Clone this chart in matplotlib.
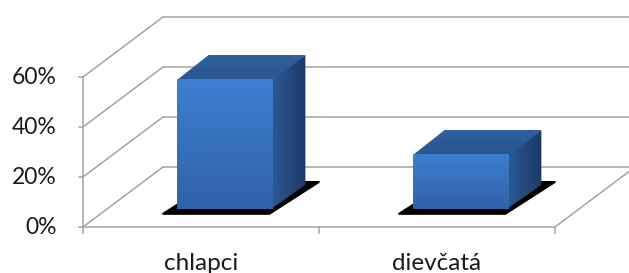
import numpy as np
import matplotlib.pyplot as plt
from matplotlib.patches import Polygon
from matplotlib.colors import LinearSegmentedColormap

categories = ["chlapci", "dievčatá"]
values = [0.52, 0.22]
y_ticks = [0.0, 0.2, 0.4, 0.6]
y_tick_labels = ["0%", "20%", "40%", "60%"]

# oblique projection: one unit of depth moves this much in x (categories) and y (value)
DX = 80 / 236
DY = 60 / 250
GRID = "#a3a3a3"


def proj(x, v, d):
    return (x + d * DX, v + d * DY)


def grad_poly(ax, pts, c1, c2, horizontal=False, z=3):
    poly = Polygon(pts, closed=True, facecolor="none", edgecolor="none", zorder=z)
    ax.add_patch(poly)
    xs = [p[0] for p in pts]
    ys = [p[1] for p in pts]
    cmap = LinearSegmentedColormap.from_list("g", [c1, c2])
    g = np.linspace(0, 1, 64)
    img = g[None, :] if horizontal else g[:, None]
    im = ax.imshow(img, cmap=cmap, extent=(min(xs), max(xs), min(ys), max(ys)),
                   aspect="auto", origin="upper", zorder=z, interpolation="bilinear")
    im.set_clip_path(poly)


def main():
    plt.rcParams["font.family"] = ["Lato", "DejaVu Sans"]
    fig = plt.figure(figsize=(6.29, 2.73), dpi=100)
    ax = fig.add_axes([0, 0, 1, 1])
    n = len(categories)
    x_right = n + DX + 0.2

    # walls: back gridlines + side diagonals
    for v in y_ticks:
        bx, by = proj(0, v, 1)
        ax.plot([bx, x_right], [by, by], color=GRID, lw=1.1, zorder=1)
        ax.plot([0, bx], [v, by], color=GRID, lw=1.1, zorder=1)
        ax.plot([-0.017, 0], [v, v], color=GRID, lw=1.1, zorder=1)
    # floor & axes
    ax.plot([0, 0], [0, y_ticks[-1]], color=GRID, lw=1.1, zorder=1)
    ax.plot([0, n], [0, 0], color=GRID, lw=1.1, zorder=1)
    fx, fy = proj(n, 0, 1)
    ax.plot([n, fx], [0, fy], color=GRID, lw=1.1, zorder=1)
    for i in range(n + 1):
        ax.plot([i, i], [0, -0.024], color=GRID, lw=1.1, zorder=1)

    for v, lab in zip(y_ticks, y_tick_labels):
        ax.text(-0.112, v, lab, ha="right", va="center", fontsize=16.5, color="#1a1a1a")
    for i, cat in enumerate(categories):
        ax.text(i + 0.5, -0.145, cat, ha="center", va="center", fontsize=17.5, color="#1a1a1a")

    hw = 0.205
    df, db = 0.3, 0.7
    for i, v in enumerate(values):
        xc = i + 0.5
        x0, x1 = xc - hw, xc + hw
        # shadow on the floor
        sh = [proj(x0 - 0.03, 0, 0.22), proj(x1 + 0.01, 0, 0.22),
              proj(x1 + 0.04, 0, 0.75), proj(x0, 0, 0.75)]
        ax.add_patch(Polygon(sh, closed=True, facecolor="black", edgecolor="black",
                             lw=1.5, joinstyle="round", zorder=2))
        front = [proj(x0, 0, df), proj(x1, 0, df), proj(x1, v, df), proj(x0, v, df)]
        side = [proj(x1 - 0.01, 0, df), proj(x1, 0, db), proj(x1, v, db), proj(x1 - 0.01, v, df)]
        top = [proj(x0, v - 0.005, df), proj(x1, v - 0.005, df), proj(x1, v, db), proj(x0, v, db)]
        grad_poly(ax, side, "#2b5997", "#1d3a66", horizontal=True, z=3)
        grad_poly(ax, top, "#2f609f", "#2a5590", z=3)
        grad_poly(ax, front, "#3c7ecf", "#3063a8", z=4)

    ax.set_xlim(-83 / 236, (629 - 83) / 236)
    ax.set_ylim(-46 / 250, 227 / 250)
    ax.axis("off")
    fig.savefig("out.png", dpi=100)


if __name__ == "__main__":
    main()
